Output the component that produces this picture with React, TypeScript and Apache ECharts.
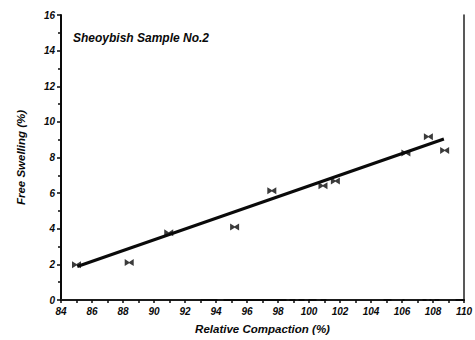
import React, { useEffect, useRef } from "react";
import * as echarts from "echarts";

// Relative compaction (%) vs free swelling (%) measurements
const compaction = [85.0, 88.4, 90.95, 95.2, 97.6, 100.9, 101.7, 106.25, 107.7, 108.75];
const swelling = [1.98, 2.1, 3.77, 4.1, 6.13, 6.41, 6.68, 8.25, 9.17, 8.4];

// Fitted trend line end points
const fitX = [85.05, 108.7];
const fitY = [1.88, 9.04];

const xTicks = [84, 86, 88, 90, 92, 94, 96, 98, 100, 102, 104, 106, 108, 110];
const yTicks = [0, 2, 4, 6, 8, 10, 12, 14, 16];

const titleText = "Sheoybish Sample No.2";
const xName = "Relative Compaction (%)";
const yName = "Free Swelling (%)";

const FONT = "Liberation Sans, Arial, sans-serif";
const INK = "#0a0a0a";

// bow-tie marker
const bowtie = "path://M0,0L5,3.2L10,0L10,8L5,4.8L0,8Z";

const heavy = {
  fontFamily: FONT,
  fontWeight: 900,
  fontStyle: "italic",
  color: INK,
};

export default function App() {
  const ref = useRef<HTMLDivElement>(null);

  useEffect(() => {
    if (!ref.current) return;
    const chart = echarts.init(ref.current, undefined, { renderer: "svg" });
    const points = compaction.map((x, i) => [x, swelling[i]]);
    const fit = fitX.map((x, i) => [x, fitY[i]]);
    const xMin = xTicks[0];
    const xMax = xTicks[xTicks.length - 1];
    const yMin = yTicks[0];
    const yMax = yTicks[yTicks.length - 1];

    chart.setOption({
      animation: false,
      backgroundColor: "#ffffff",
      title: {
        text: titleText,
        left: 68,
        top: 27,
        textStyle: { ...heavy, fontSize: 12 },
      },
      grid: { left: 61, right: 10, top: 15, bottom: 36 },
      xAxis: [
        {
          type: "value",
          min: xMin,
          max: xMax,
          interval: 2,
          name: xName,
          nameLocation: "middle",
          nameGap: 23,
          nameTextStyle: { ...heavy, fontSize: 11.5 },
          axisLine: { show: true, lineStyle: { color: INK, width: 2 } },
          axisTick: { show: true, length: 3, lineStyle: { color: INK, width: 1.5 } },
          minorTick: { show: true, splitNumber: 2, length: 3, lineStyle: { color: INK, width: 1.5 } },
          axisLabel: {
            ...heavy,
            margin: 6,
            fontSize: 10,
            formatter: (v: number) => String(v),
          },
          splitLine: { show: false },
        },
        {
          type: "value",
          position: "top",
          min: xMin,
          max: xMax,
          axisLine: {
            show: true,
            lineStyle: {
              color: "#222",
              width: 1.5,
              type: [139, 18, 5, 64, 2, 7, 2, 7, 3, 9, 3, 7, 56, 9, 10, 3, 17, 5, 2, 3, 2, 6, 15, 30],
            },
          },
          axisTick: { show: false },
          axisLabel: { show: false },
          splitLine: { show: false },
        },
      ],
      yAxis: [
        {
          type: "value",
          min: yMin,
          max: yMax,
          interval: 2,
          name: yName,
          nameLocation: "middle",
          nameGap: 34,
          nameTextStyle: { ...heavy, fontSize: 11.5 },
          axisLine: { show: true, lineStyle: { color: INK, width: 2 } },
          axisTick: { show: true, length: 4, lineStyle: { color: INK, width: 1.5 } },
          minorTick: { show: true, splitNumber: 2, length: 3, lineStyle: { color: INK, width: 1.5 } },
          axisLabel: { ...heavy, margin: 6, fontSize: 10 },
          splitLine: { show: false },
        },
        {
          type: "value",
          position: "right",
          min: yMin,
          max: yMax,
          axisLine: { show: true, lineStyle: { color: "#222", width: 1.5 } },
          axisTick: { show: false },
          axisLabel: { show: false },
          splitLine: { show: false },
        },
      ],
      series: [
        {
          type: "line",
          data: fit,
          showSymbol: false,
          symbol: "none",
          lineStyle: { color: INK, width: 3 },
          z: 3,
        },
        {
          type: "scatter",
          data: points,
          symbol: bowtie,
          symbolSize: [9, 7],
          itemStyle: { color: INK },
          z: 4,
        },
      ],
    });
    return () => chart.dispose();
  }, []);

  return (
    <div
      ref={ref}
      style={{ position: "absolute", left: 0, top: 0, width: 475, height: 340 }}
    />
  );
}
